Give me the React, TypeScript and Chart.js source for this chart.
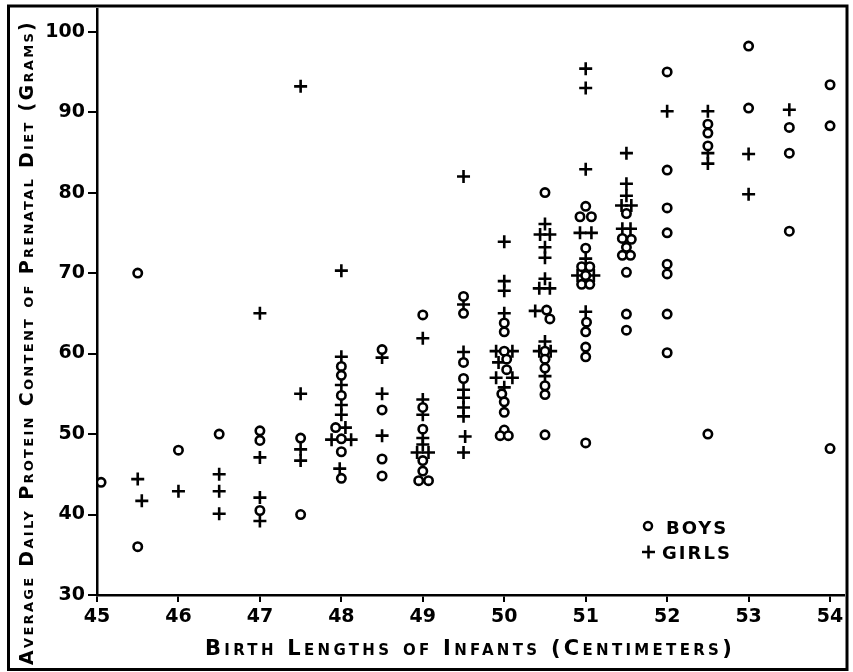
import React, { useEffect, useRef } from "react";
import { Chart, registerables } from "chart.js";

Chart.register(...registerables);

// ---- Data ----
const xTickValues = [45, 46, 47, 48, 49, 50, 51, 52, 53, 54];
const yTickValues = [30, 40, 50, 60, 70, 80, 90, 100];

const boysLength = [
  45.05, 45.5, 45.5, 46, 46.5, 47, 47, 47, 47.5, 47.5,
  48, 48, 48, 47.93, 48, 48, 48,
  48.5, 48.5, 48.5, 48.5,
  49, 49, 49, 49, 49, 48.95, 49.07,
  49.5, 49.5, 49.5, 49.5,
  50, 50, 50, 50.03, 50.03, 49.97, 50, 50, 50, 49.95, 50.05,
  50.5, 50.52, 50.56, 50.5, 50.5, 50.5, 50.5, 50.5, 50.5,
  51, 50.93, 51.07, 51, 50.95, 51.05, 51, 50.95, 51.05, 51.01, 51, 51, 51, 51,
  51.5, 51.45, 51.56, 51.5, 51.45, 51.55, 51.5, 51.5, 51.5,
  52, 52, 52, 52, 52, 52, 52, 52,
  52.5, 52.5, 52.5, 52.5,
  53, 53,
  53.5, 53.5, 53.5,
  54, 54, 54,
];
const boysProtein = [
  44, 70, 36, 48, 50, 50.4, 49.2, 40.5, 49.5, 40,
  58.4, 57.3, 54.8, 50.8, 49.4, 47.8, 44.5,
  60.5, 53, 46.9, 44.8,
  64.8, 53.3, 50.6, 46.7, 45.4, 44.2, 44.2,
  67.1, 65, 58.9, 56.9,
  63.8, 62.7, 60.3, 59.3, 58, 55, 54, 52.7, 50.5, 49.8, 49.8,
  80, 65.4, 64.3, 60.3, 59.3, 58.2, 56, 54.9, 49.9,
  78.3, 77, 77, 73.1, 70.8, 70.8, 69.7, 68.6, 68.6, 63.9, 62.7, 60.8, 59.6, 48.9,
  77.4, 74.3, 74.2, 73.2, 72.2, 72.2, 70.1, 64.9, 62.9,
  95, 82.8, 78.1, 75, 71.1, 69.9, 64.9, 60.1,
  88.5, 87.4, 85.8, 50,
  98.2, 90.5,
  88.1, 84.9, 75.2,
  93.4, 88.3, 48.2,
];

const girlsLength = [
  45.5, 45.55, 46, 46.5, 46.5, 46.5,
  47, 47, 47, 47,
  47.5, 47.5, 47.5, 47.5,
  48, 48, 48, 48, 48, 48.05, 47.88, 48.12, 47.98,
  48.5, 48.5, 48.5,
  49, 49, 49, 49, 49, 48.93, 49.07,
  49.5, 49.5, 49.5, 49.5, 49.5, 49.5, 49.5, 49.52, 49.5,
  50, 50, 50, 50, 49.9, 50.1, 49.93, 49.9, 50.1, 50,
  50.5, 50.44, 50.56, 50.5, 50.5, 50.5, 50.43, 50.56, 50.38, 50.5, 50.43, 50.57, 50.5,
  51, 51, 51, 50.93, 51.07, 51, 50.9, 51.1, 51,
  51.5, 51.5, 51.5, 51.44, 51.56, 51.45, 51.55,
  52,
  52.5, 52.5, 52.5,
  53, 53,
  53.5,
];
const girlsProtein = [
  44.4, 41.7, 42.9, 45, 42.9, 40.1,
  65, 47.1, 42.1, 39.2,
  93.2, 55, 48.1, 46.7,
  70.3, 59.6, 56.1, 53.6, 52.4, 50.8, 49.3, 49.3, 45.7,
  59.5, 55, 49.8,
  61.9, 54.3, 52.4, 49.5, 48.7, 47.7, 47.7,
  82, 66.1, 60.2, 55.5, 54.5, 53.3, 52.2, 49.7, 47.7,
  73.9, 69, 67.8, 65, 60.3, 60.3, 58.9, 57, 57, 55.8,
  76.1, 74.8, 74.8, 73.2, 71.9, 69.3, 68.1, 68.1, 65.3, 61.5, 60.3, 60.3, 57.2,
  95.4, 93, 82.9, 75, 75, 71.8, 69.7, 69.7, 65.2,
  84.9, 81.1, 79.6, 78.4, 78.4, 75.5, 75.5,
  90.1,
  90.1, 84.9, 83.6,
  84.8, 79.8,
  90.3,
];

const seriesNames = ["Boys", "Girls"];
const legendLabels = ["BOYS", "GIRLS"];
const xTitle = "Birth Lengths of Infants (Centimeters)";
const yTitle = "Average Daily Protein Content of Prenatal Diet (Grams)";

const FONT = '"DejaVu Sans", "Liberation Sans", sans-serif';

function fittedText(ctx: CanvasRenderingContext2D, text: string, x: number, y: number, target: number) {
  (ctx as any).letterSpacing = "0px";
  const w = ctx.measureText(text).width;
  const spacing = (target - w) / text.length;
  if ("letterSpacing" in ctx) {
    (ctx as any).letterSpacing = spacing.toFixed(2) + "px";
    ctx.fillText(text, x, y);
    (ctx as any).letterSpacing = "0px";
  } else {
    ctx.save();
    ctx.translate(x, y);
    ctx.scale(target / w, 1);
    ctx.fillText(text, 0, 0);
    ctx.restore();
  }
}

const decorPlugin = {
  id: "decor",
  afterDraw(chart: any) {
    const ctx: CanvasRenderingContext2D = chart.ctx;
    ctx.save();
    // outer frame
    ctx.strokeStyle = "#000";
    ctx.lineWidth = 3;
    ctx.strokeRect(8.5, 6, 838.5, 663.5);

    ctx.fillStyle = "#000";
    ctx.textAlign = "left";
    ctx.textBaseline = "alphabetic";

    // x-axis title
    ctx.font = `small-caps bold 21px ${FONT}`;
    fittedText(ctx, xTitle, 205, 655, 530);

    // y-axis title (rotated)
    ctx.save();
    ctx.translate(33, 665);
    ctx.rotate(-Math.PI / 2);
    ctx.font = `small-caps bold 19px ${FONT}`;
    fittedText(ctx, yTitle, 0, 0, 645);
    ctx.restore();

    // legend
    ctx.lineWidth = 2.5;
    ctx.beginPath();
    ctx.arc(648, 526, 4, 0, Math.PI * 2);
    ctx.stroke();
    ctx.beginPath();
    ctx.moveTo(642, 552);
    ctx.lineTo(655, 552);
    ctx.moveTo(648.5, 545.5);
    ctx.lineTo(648.5, 558.5);
    ctx.stroke();
    ctx.font = `bold 18px ${FONT}`;
    fittedText(ctx, legendLabels[0], 666, 534, 62);
    fittedText(ctx, legendLabels[1], 662, 559, 70);
    ctx.restore();
  },
};

export default function App() {
  const canvasRef = useRef<HTMLCanvasElement | null>(null);

  useEffect(() => {
    const canvas = canvasRef.current;
    if (!canvas) return;
    const boys = boysLength.map((x, i) => ({ x, y: boysProtein[i] }));
    const girls = girlsLength.map((x, i) => ({ x, y: girlsProtein[i] }));

    const chart = new Chart(canvas, {
      type: "scatter",
      data: {
        datasets: [
          {
            label: seriesNames[0],
            data: boys,
            pointStyle: "circle",
            pointRadius: 4.2,
            pointBorderWidth: 2.6,
            borderColor: "#000",
            backgroundColor: "#fff",
          },
          {
            label: seriesNames[1],
            data: girls,
            pointStyle: "cross",
            pointRadius: 6.5,
            pointBorderWidth: 2.6,
            borderColor: "#000",
            backgroundColor: "#000",
          },
        ],
      },
      options: {
        animation: false,
        responsive: false,
        devicePixelRatio: 1,
        events: [],
        layout: { padding: { left: 9, top: 6, right: 7, bottom: 2 } },
        plugins: {
          legend: { display: false },
          tooltip: { enabled: false },
          title: { display: false },
        },
        scales: {
          x: {
            type: "linear",
            min: 45,
            max: 54.17,
            afterFit: (scale: any) => {
              scale.height = 75;
              scale.paddingLeft = 0;
              scale.paddingRight = 0;
            },
            afterBuildTicks: (scale: any) => {
              scale.ticks = xTickValues.map((v) => ({ value: v }));
            },
            ticks: {
              stepSize: 1,
              includeBounds: false,
              padding: 4,
              color: "#000",
              font: { family: FONT, size: 19, weight: "bold" },
              maxRotation: 0,
            },
            grid: {
              display: true,
              drawOnChartArea: false,
              drawTicks: true,
              tickLength: 7,
              color: "#000",
              lineWidth: 2,
            },
            border: { display: true, color: "#000", width: 2.5 },
          },
          y: {
            type: "linear",
            min: 30,
            max: 102.8,
            afterFit: (scale: any) => {
              scale.width = 88;
              scale.paddingTop = 0;
              scale.paddingBottom = 0;
            },
            afterBuildTicks: (scale: any) => {
              scale.ticks = yTickValues.map((v) => ({ value: v }));
            },
            ticks: {
              stepSize: 10,
              includeBounds: false,
              padding: 3,
              color: "#000",
              font: { family: FONT, size: 19, weight: "bold" },
            },
            grid: {
              display: true,
              drawOnChartArea: false,
              drawTicks: true,
              tickLength: 9,
              color: "#000",
              lineWidth: 2,
            },
            border: { display: true, color: "#000", width: 2.5 },
          },
        },
      },
      plugins: [decorPlugin],
    });

    return () => {
      chart.destroy();
    };
  }, []);

  return (
    <div style={{ position: "absolute", left: 0, top: 0, width: 853, height: 672, background: "#fff" }}>
      <canvas ref={canvasRef} width={853} height={672} style={{ display: "block" }} />
    </div>
  );
}
